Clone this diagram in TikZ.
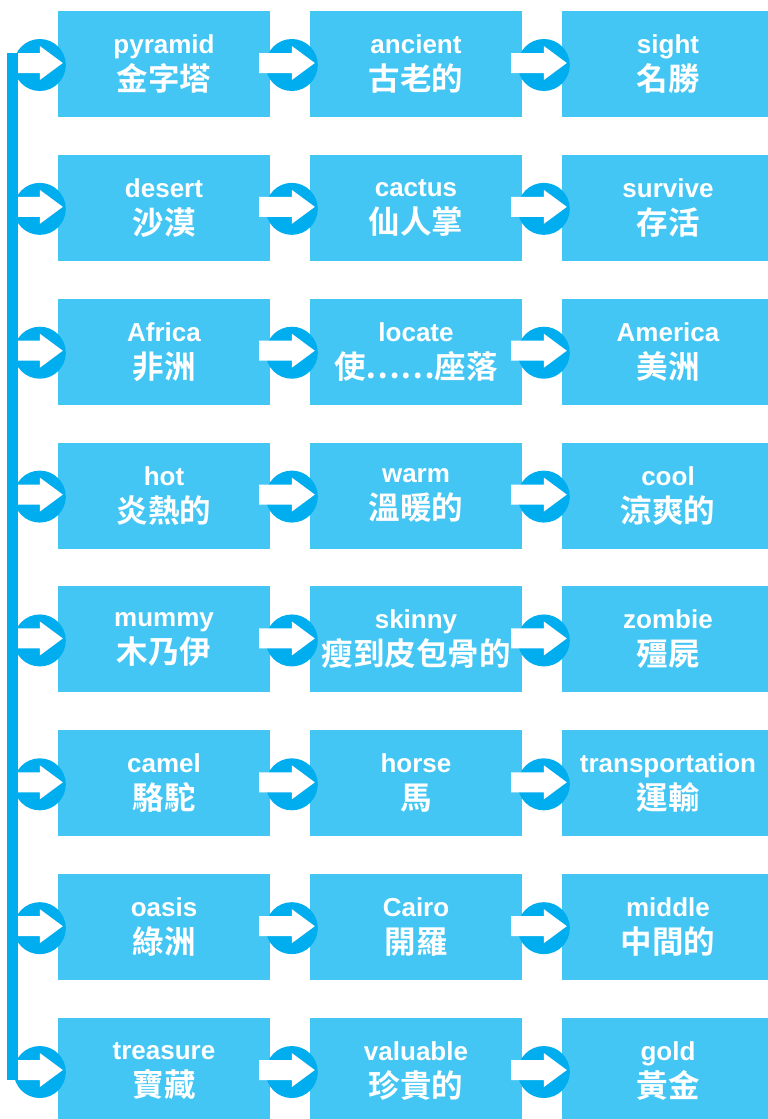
\documentclass[tikz,border=0pt]{standalone}
\usepackage{fontspec}
\setmainfont{Liberation Sans}
\newfontfamily\cjk{Noto Sans CJK TC}[BoldFont={Noto Sans CJK TC Bold}]
\usetikzlibrary{calc}
\definecolor{skyfill}{HTML}{43C6F4}
\definecolor{ringblue}{HTML}{00ADEE}
\tikzset{
  wordbox/.style={
    rectangle, fill=skyfill, inner sep=0pt,
    minimum width=212pt, minimum height=106pt,
    align=center, text=white, font=\bfseries\fontsize{26}{37}\selectfont
  },
  ring/.style={circle, fill=ringblue, inner sep=0pt, minimum size=52pt},
  spinebar/.style={rectangle, fill=ringblue, inner sep=0pt,
    minimum width=11pt, minimum height=1027pt},
  blockarrow/.style={fill=white},
}
\begin{document}
\begin{tikzpicture}[x=1pt, y=-1pt]
  \useasboundingbox (0,0) rectangle (768,1119);

  % left spine
  \node[spinebar] (spine) at (12.5,566.5) {};

  % word boxes, three per row
  \foreach \en/\zh [count=\i from 0] in {
      pyramid/金字塔, ancient/古老的, sight/名勝,
      desert/沙漠, cactus/仙人掌, survive/存活,
      Africa/非洲, locate/使……座落, America/美洲,
      hot/炎熱的, warm/溫暖的, cool/涼爽的,
      mummy/木乃伊, skinny/瘦到皮包骨的, zombie/殭屍,
      camel/駱駝, horse/馬, transportation/運輸,
      oasis/綠洲, Cairo/開羅, middle/中間的,
      treasure/寶藏, valuable/珍貴的, gold/黃金} {
    \pgfmathtruncatemacro\row{\i/3}
    \pgfmathtruncatemacro\col{mod(\i,3)}
    \node[wordbox] (w\row\col) at ({164+252*\col},{64+143.86*\row})
      {\en\\{\cjk\fontsize{31.5}{37}\selectfont\zh}};
  }

  % rings and arrows into every box
  \foreach \r in {0,...,7} {
    \foreach \c in {0,1,2} {
      \pgfmathtruncatemacro\p{\c-1}
      \ifnum\c=0
        \coordinate (s\r\c) at (spine.east);
      \else
        \coordinate (s\r\c) at ($(w\r\p.east)+(-11,0)$);
      \fi
      \node[ring] (r\r\c) at ($(w\r\c.west)+(-18,1)$) {};
      \fill[blockarrow] let \p1=(r\r\c.center), \p2=(s\r\c),
          \p3=($(w\r\c.west)+(0,-1)$) in
        (\x2,\y3+10pt) -- (\x1,\y3+10pt) -- (\x1,\y3+17pt) -- (\x1+23pt,\y3)
        -- (\x1,\y3-17pt) -- (\x1,\y3-10pt) -- (\x2,\y3-10pt) -- cycle;
    }
  }
\end{tikzpicture}
\end{document}
